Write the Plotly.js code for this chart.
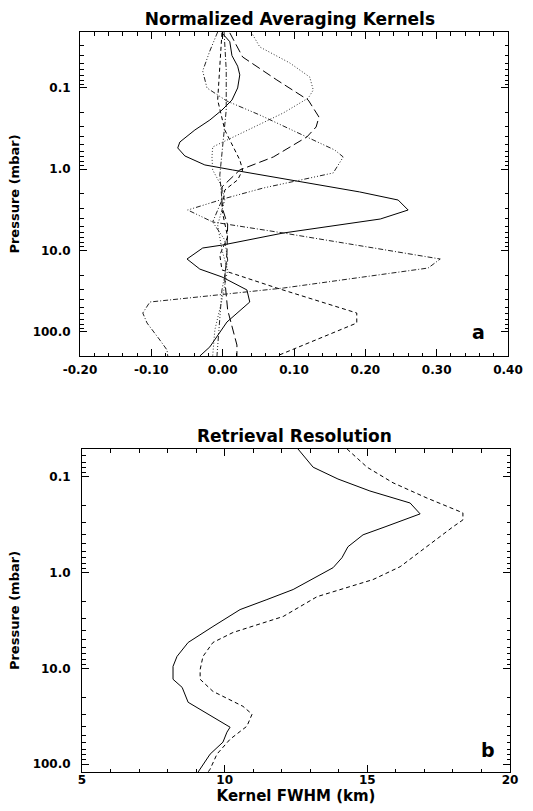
<!DOCTYPE html>
<html>
<head>
<meta charset="utf-8">
<script src="https://cdn.plot.ly/plotly-3.0.1.min.js"></script>
<style>html,body{margin:0;padding:0;background:#fff;}#chart{width:533px;height:811px;}</style>
</head>
<body>
<div id="chart"></div>
<script>
// ---------- Panel a: normalized averaging kernels (pressure in mbar, kernel value) ----------
const solidP  = [0.021,0.027,0.040,0.054,0.069,0.1,0.141,0.187,0.248,0.329,0.462,0.547,0.686,0.885,1.02,1.43,1.90,2.39,3.17,4.09,6.08,8.54,9.30,12.7,16.9,21.1,30.5,42.9,58.6,75.6,153,198];
const solidK  = [-0.001,0.010,0.013,0.021,0.024,0.021,0.013,-0.001,-0.018,-0.039,-0.060,-0.063,-0.053,-0.025,0.014,0.108,0.192,0.246,0.260,0.221,0.085,0.000,-0.028,-0.050,-0.032,-0.001,0.034,0.038,0.020,0.006,-0.018,-0.032];

const dotP    = [0.0205,0.0313,0.0492,0.0733,0.106,0.133,0.203,0.401,0.532,0.706,1.02,1.65,2.39,4.84,9.84,17.3,40.5,94.9,198];
const dotK    = [0.040,0.052,0.094,0.122,0.127,0.120,0.085,0.014,-0.014,-0.015,-0.014,-0.001,0.003,-0.007,-0.001,0.007,-0.001,-0.011,-0.014];

const longDashP = [0.021,0.0416,0.0798,0.141,0.228,0.302,0.401,0.706,1.02,1.65,2.91,4.84,10.7,23.0,53.8,145,198];
const longDashK = [0.010,0.028,0.076,0.120,0.135,0.131,0.118,0.071,0.024,-0.001,-0.001,0.007,0.006,0.003,0.007,0.020,0.020];

const dash3dotP = [0.0205,0.0351,0.0618,0.1,0.145,0.215,0.401,0.579,0.706,1.11,1.70,2.25,3.17,4.45,7.41,13.1,30.5,71.5,198];
const dash3dotK = [-0.007,-0.018,-0.028,-0.022,0.006,0.052,0.118,0.157,0.169,0.155,0.057,0.006,-0.049,-0.014,0.003,0.007,-0.001,-0.004,-0.008];

const dashDotP = [0.0205,0.0601,0.187,0.579,1.18,2.39,4.45,6.08,10.4,12.7,16.4,28.9,35.2,42.9,58.6,77.8,126,167,198];
const dashDotK = [0.002,0.005,0.005,-0.001,-0.004,-0.001,-0.014,0.085,0.248,0.305,0.288,0.085,-0.008,-0.102,-0.112,-0.106,-0.088,-0.078,-0.077];

const dashP   = [0.021,0.0521,0.141,0.329,0.768,1.02,1.35,1.80,3.17,6.81,11.3,17.3,28.9,58.6,77.8,198];
const dashK   = [-0.001,-0.004,-0.007,0.003,0.024,0.028,0.021,0.003,-0.001,0.007,-0.004,-0.001,0.076,0.188,0.188,0.076];

// ---------- Panel b: retrieval resolution (kernel FWHM in km) ----------
const resSolidP = [0.051,0.079,0.105,0.14,0.187,0.243,0.332,0.402,0.536,0.698,0.887,1.50,1.91,2.43,3.65,5.36,7.50,9.53,13.0,15.8,22.6,41.2,46.4,59.0,78.7,113,121];
const resSolidW = [12.57,13.10,13.97,15.09,16.50,16.85,15.62,14.85,14.32,14.11,13.80,12.40,11.48,10.54,9.59,8.72,8.33,8.19,8.19,8.51,8.72,10.19,10.08,9.94,9.49,9.14,9.07];

const resDashP = [0.051,0.079,0.115,0.166,0.237,0.281,0.332,0.536,0.866,1.18,1.78,2.87,4.22,5.36,7.50,10.3,13.0,17.4,24.9,30.1,40.2,55.0,78.7,113,121];
const resDashW = [14.29,14.99,15.90,17.09,18.35,18.35,18.00,17.09,16.15,15.20,13.24,12.05,10.29,9.59,9.24,9.14,9.14,9.59,10.64,10.96,10.78,10.19,9.73,9.49,9.42];

// ---------- Ticks ----------
const kernelTicks = [-0.2,-0.1,0,0.1,0.2,0.3,0.4];
const kernelTickLabels = ['-0.20','-0.10','0.00','0.10','0.20','0.30','0.40'];
const fwhmTicks = [5,10,15,20];
const fwhmTickLabels = ['5','10','15','20'];
const pressTicks = [0.1,1,10,100];
const pressTickLabels = ['0.1','1.0','10.0','100.0'];

const minorPress = [];
[0.01,0.1,1,10,100].forEach(d => { for (let m = 2; m <= 9; m++) minorPress.push(+(m*d).toPrecision(3)); });

const FONT = 'DejaVu Sans, Arial, sans-serif';
const lw = 1;

function line(x, y, dash, xa, ya, color) {
  return {x: x, y: y, mode: 'lines', xaxis: xa, yaxis: ya, showlegend: false, hoverinfo: 'skip',
          line: {color: color || '#000', width: lw, dash: dash}};
}

const traces = [
  line(solidK, solidP, 'solid', 'x', 'y'),
  line(dotK, dotP, '1px,2px', 'x', 'y', '#333'),
  line(longDashK, longDashP, '9px,4px', 'x', 'y'),
  line(dash3dotK, dash3dotP, '5px,2px,1px,2px,1px,2px,1px,2px', 'x', 'y', '#222'),
  line(dashDotK, dashDotP, '5px,2px,1px,2px', 'x', 'y', '#222'),
  line(dashK, dashP, '4px,3px', 'x', 'y'),
  line(resSolidW, resSolidP, 'solid', 'x2', 'y2'),
  line(resDashW, resDashP, '4px,3px', 'x2', 'y2')
];

const tickFont = {family: FONT, size: 12, weight: 'bold', color: '#000'};
const titleFont = {family: FONT, size: 13, weight: 'bold', color: '#000'};

function frame(extra) {
  return Object.assign({
    showline: true, linecolor: '#000', linewidth: 1, mirror: 'allticks',
    ticks: 'inside', ticklen: 7, tickwidth: 1, tickcolor: '#000',
    showgrid: false, zeroline: false, tickfont: tickFont, fixedrange: true
  }, extra);
}

const layout = {
  width: 533, height: 811,
  margin: {l: 0, r: 0, t: 0, b: 0},
  paper_bgcolor: '#fff', plot_bgcolor: '#fff',
  title: {text: 'Normalized Averaging Kernels', font: {family: FONT, size: 17, weight: 'bold', color: '#000'},
          x: 0.544, xanchor: 'center', y: 1 - 19/811, yanchor: 'middle', xref: 'paper', yref: 'container'},
  xaxis: frame({domain: [80/533, 508/533], anchor: 'y', range: [-0.2, 0.4],
    tickmode: 'array', tickvals: kernelTicks, ticktext: kernelTickLabels, ticklabelstandoff: 3,
    minor: {tickmode: 'linear', tick0: -0.2, dtick: 0.02, ticks: 'inside', ticklen: 3.5, tickcolor: '#000', tickwidth: 1}}),
  yaxis: frame({domain: [1 - 356/811, 1 - 32/811], anchor: 'x', type: 'log',
    range: [Math.log10(198), Math.log10(0.0205)],
    tickmode: 'array', tickvals: pressTicks, ticktext: pressTickLabels, ticklabelstandoff: 6,
    minor: {tickmode: 'array', tickvals: minorPress, ticks: 'inside', ticklen: 3.5, tickcolor: '#000', tickwidth: 1},
    title: {text: 'Pressure (mbar)', font: titleFont, standoff: 10}}),
  xaxis2: frame({domain: [82/533, 510/533], anchor: 'y2', range: [5, 20],
    tickmode: 'array', tickvals: fwhmTicks, ticktext: fwhmTickLabels, ticklabelstandoff: -3,
    minor: {tickmode: 'linear', tick0: 5, dtick: 1, ticks: 'inside', ticklen: 3.5, tickcolor: '#000', tickwidth: 1},
    title: {text: 'Kernel FWHM (km)', font: {family: FONT, size: 15, weight: 'bold', color: '#000'}, standoff: 1}}),
  yaxis2: frame({domain: [1 - 772/811, 1 - 449/811], anchor: 'x2', type: 'log',
    range: [Math.log10(121), Math.log10(0.051)],
    tickmode: 'array', tickvals: pressTicks, ticktext: pressTickLabels, ticklabelstandoff: 8,
    minor: {tickmode: 'array', tickvals: minorPress, ticks: 'inside', ticklen: 3.5, tickcolor: '#000', tickwidth: 1},
    title: {text: 'Pressure (mbar)', font: titleFont, standoff: 10}}),
  annotations: [
    {text: 'Retrieval Resolution', xref: 'paper', yref: 'paper', x: 294/533, y: 1 - 436/811,
     xanchor: 'center', yanchor: 'middle', showarrow: false,
     font: {family: FONT, size: 17, weight: 'bold', color: '#000'}},
    {text: 'a', xref: 'x domain', yref: 'y domain', x: 0.93, y: 0.074, xanchor: 'center', yanchor: 'middle',
     showarrow: false, font: {family: FONT, size: 19, weight: 'bold', color: '#000'}},
    {text: 'b', xref: 'x2 domain', yref: 'y2 domain', x: 0.949, y: 0.068, xanchor: 'center', yanchor: 'middle',
     showarrow: false, font: {family: FONT, size: 19, weight: 'bold', color: '#000'}}
  ]
};

Plotly.newPlot('chart', traces, layout, {staticPlot: true, displayModeBar: false});
</script>
</body>
</html>
